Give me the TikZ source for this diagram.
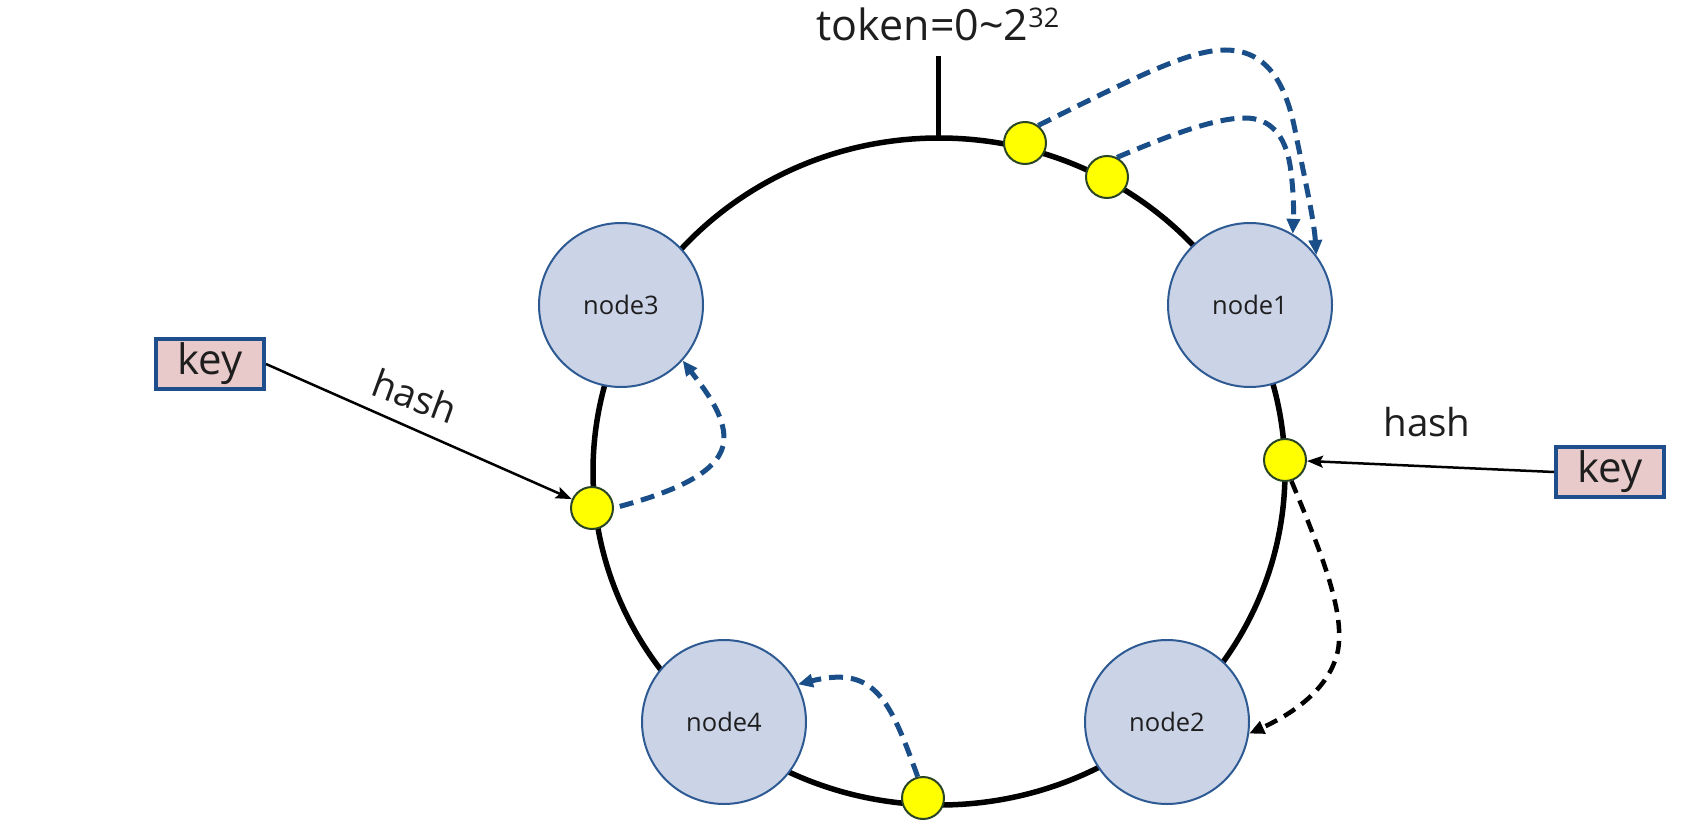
\documentclass[tikz,border=0pt]{standalone}
\usepackage{fontspec}
\setmainfont{Open Sans}
\usetikzlibrary{arrows.meta}
\definecolor{nodefill}{HTML}{CBD3E7}
\definecolor{nodeline}{HTML}{2E5A93}
\definecolor{dotfill}{HTML}{FFFF00}
\definecolor{dotline}{HTML}{2A4426}
\definecolor{keyfill}{HTML}{E9CACA}
\definecolor{keyline}{HTML}{1F4E8C}
\definecolor{dashblue}{HTML}{1A4E88}
\definecolor{txt}{HTML}{1E1E1E}
\begin{document}
\begin{tikzpicture}[x=1pt,y=-1pt,
  ring/.style={line width=5.5pt,draw=black},
  ringnode/.style={circle,draw=nodeline,line width=2pt,fill=nodefill,minimum size=164pt,inner sep=0pt,text=txt,font=\fontsize{25.5}{30}\selectfont},
  tokendot/.style={circle,draw=dotline,line width=2pt,fill=dotfill,minimum size=42pt,inner sep=0pt},
  keybox/.style={rectangle,draw=keyline,line width=4pt,fill=keyfill,minimum width=108pt,minimum height=50pt,inner sep=0pt,text=txt,font=\fontsize{42}{46}\selectfont},
  lbl/.style={text=txt,font=\fontsize{38.5}{42}\selectfont,inner sep=0pt},
  hasharrow/.style={line width=2.5pt,draw=black,-{Stealth[length=16pt,width=12pt,inset=3pt]}},
  bluearrow/.style={draw=dashblue,line width=5pt,dash pattern=on 14pt off 8pt,-{Triangle[length=15pt,width=13pt]}},
  blackarrow/.style={draw=black,line width=4.5pt,dash pattern=on 13pt off 8pt,-{Triangle[length=15pt,width=13pt]}}]
\useasboundingbox (0,0) rectangle (1684,837);
% ring
\draw[ring] (939,471.5) ellipse [x radius=346, y radius=333.5];
\coordinate (ticktop) at (938,56);
\coordinate (ringtop) at (938,138);
\draw[line width=5pt] (ticktop) -- (ringtop);
\node[text=txt,font=\fontsize{43}{48}\selectfont,anchor=base,inner sep=0pt] (tokenlbl) at (938,41) {token=0\textasciitilde 2\raisebox{13pt}{\fontsize{27}{30}\selectfont 32}};
% physical nodes
\node[ringnode] (node3) at (621,305) {node3};
\node[ringnode] (node1) at (1250,305) {node1};
\node[ringnode] (node4) at (724,722) {node4};
\node[ringnode] (node2) at (1167,722) {node2};
% tokens
\node[tokendot] (d1) at (1025,143) {};
\node[tokendot] (d2) at (1107,177) {};
\node[tokendot] (d3) at (1285,460) {};
\node[tokendot] (d4) at (592,508) {};
\node[tokendot] (d5) at (923,798) {};
% keys
\node[keybox] (keyL) at (210,364) {key};
\node[keybox] (keyR) at (1610,472) {key};
\draw[hasharrow] (keyL.east) -- (d4);
\draw[hasharrow] (keyR.west) -- (d3);
\node[lbl,rotate=-20] (hashL) at (415,396) {hash};
\node[lbl] (hashR) at (1427,422) {hash};
% dashed arrows
\draw[bluearrow] (d1.53) .. controls (1140,75) and (1190,50) .. (1225,50) .. controls (1265,50) and (1285,80) .. (1295,130) .. controls (1305,180) and (1314,220) .. (node1.37);
\draw[bluearrow] (d2.63) .. controls (1170,135) and (1215,118) .. (1245,118) .. controls (1270,118) and (1285,135) .. (1290,165) .. controls (1293,185) and (1294,205) .. (node1.59);
\draw[bluearrow,shorten <=6pt] (d4.east) .. controls (680,490) and (722,470) .. (724,440) .. controls (725,415) and (705,390) .. (node3.-42);
\draw[bluearrow] (d5.104) .. controls (890,700) and (875,665) .. (node4.27);
\draw[blackarrow] (d3.-73) .. controls (1320,550) and (1345,610) .. (1338,650) .. controls (1330,690) and (1290,715) .. (node2.-8);
\end{tikzpicture}
\end{document}
